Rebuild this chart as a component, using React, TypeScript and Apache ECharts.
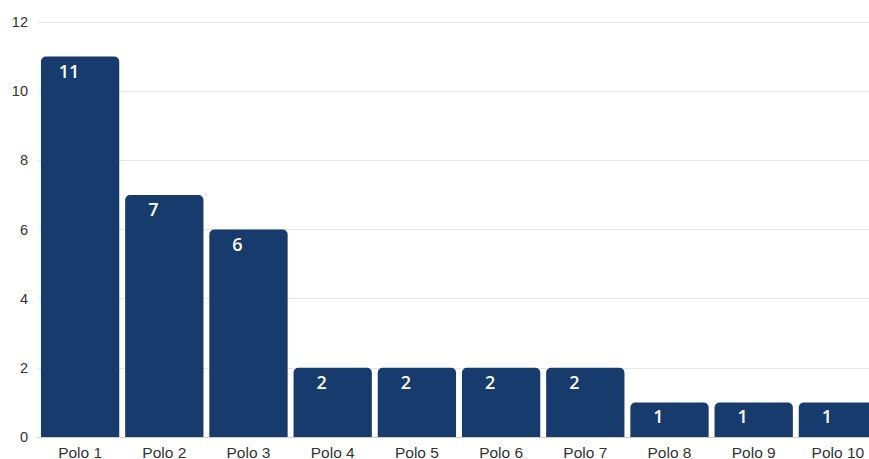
import React, { useEffect, useRef } from "react";
import * as echarts from "echarts";

const categories = ["Polo 1", "Polo 2", "Polo 3", "Polo 4", "Polo 5", "Polo 6", "Polo 7", "Polo 8", "Polo 9", "Polo 10"];
const values = [11, 7, 6, 2, 2, 2, 2, 1, 1, 1];

export default function App() {
  const ref = useRef<HTMLDivElement>(null);
  useEffect(() => {
    if (!ref.current) return;
    const chart = echarts.init(ref.current, null, { renderer: "svg" });
    chart.setOption({
      animation: false,
      grid: { left: 38, width: 842, top: 22, bottom: 22, containLabel: false, outerBoundsMode: "none" },
      xAxis: {
        type: "category",
        data: categories,
        axisLine: { show: true, lineStyle: { color: "#cccccc" } },
        axisTick: { show: false },
        axisLabel: { color: "#333333", fontSize: 15.5, fontFamily: "Liberation Sans, Arial, sans-serif", margin: 7 },
      },
      yAxis: {
        type: "value",
        min: 0,
        max: 12,
        interval: 2,
        axisLine: { show: false },
        axisTick: { show: false },
        splitLine: { lineStyle: { color: "#e6e6e6" } },
        axisLabel: { color: "#333333", fontSize: 14.5, fontFamily: "Liberation Sans, Arial, sans-serif", margin: 10 },
      },
      series: [
        {
          type: "bar",
          data: values,
          barCategoryGap: "7%",
          itemStyle: { color: "#173b6c", borderRadius: [5, 5, 0, 0] },
          label: {
            show: true,
            position: "insideTop",
            distance: 5,
            offset: [-11, 0],
            color: "#ffffff",
            fontSize: 18,
            fontWeight: 600,
            fontFamily: "Open Sans, sans-serif",
          },
        },
      ],
    });
    return () => chart.dispose();
  }, []);
  return <div ref={ref} style={{ position: "absolute", left: 0, top: 0, width: 869, height: 459 }} />;
}
